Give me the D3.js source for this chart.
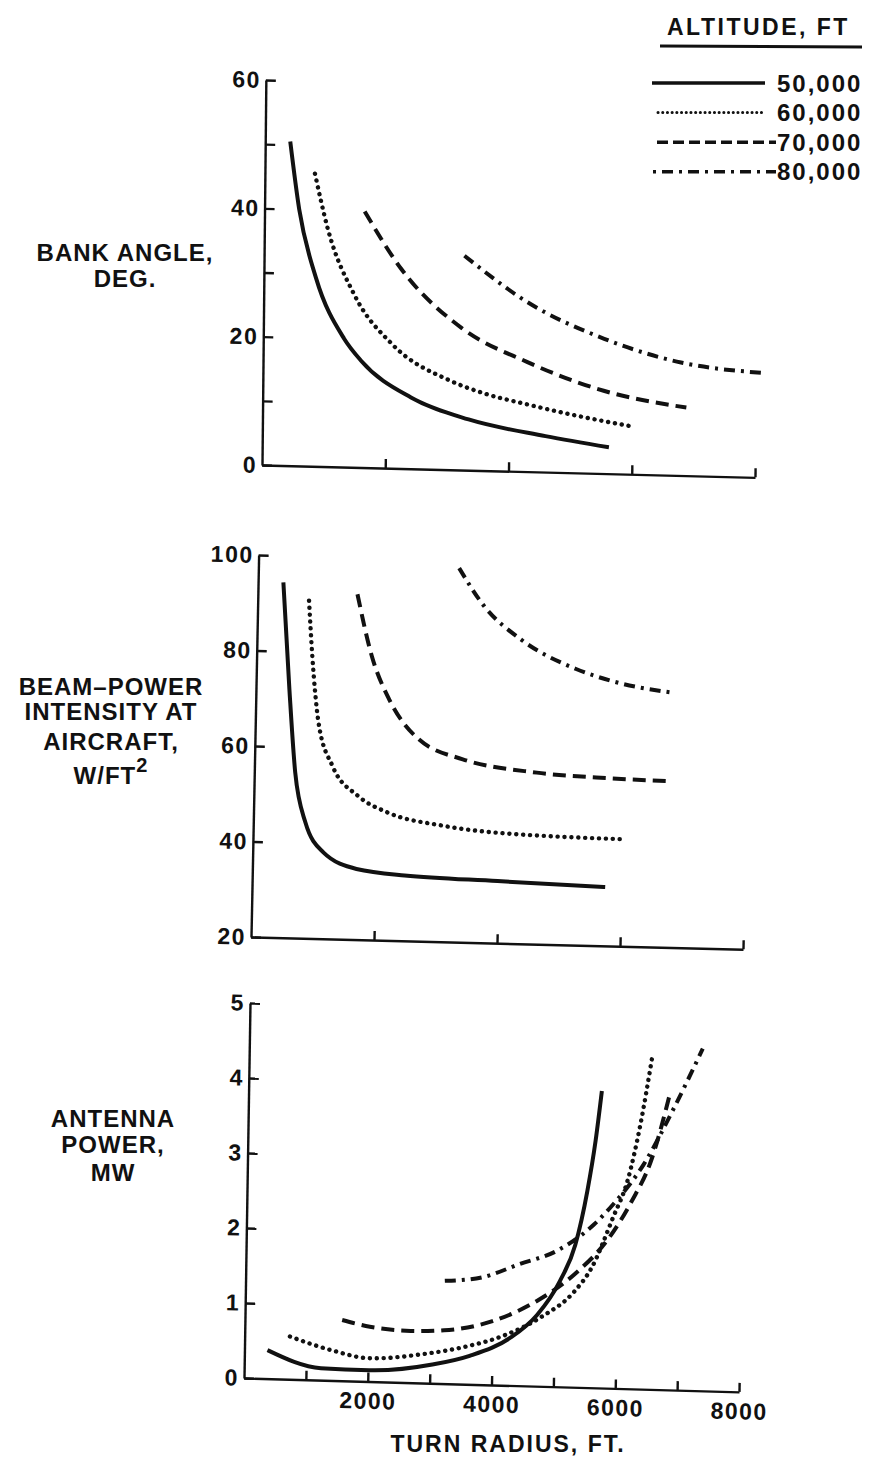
<!DOCTYPE html>
<html>
<head>
<meta charset="utf-8">
<title>turn radius charts</title>
<script src="https://d3js.org/d3.v7.min.js"></script>
<style>
  body { margin: 0; background: #fff; }
  svg text { font-family: "Liberation Sans", Arial, sans-serif; font-weight: bold; fill: #111; }
</style>
</head>
<body>
<svg width="878" height="1464"></svg>
<script>
// altitude legend
var altitudes = ['50,000', '60,000', '70,000', '80,000'];

// turn radius ticks (ft)
var radiusTicks = [2000, 4000, 6000, 8000];
var radiusMinorTicks = [1000, 2000, 3000, 4000, 5000, 6000, 7000, 8000];

// bank angle, deg  [turn radius ft, value]
var bankTicks = [0, 10, 20, 30, 40, 50, 60];
var bank50 = [[406, 50.5], [562, 40], [844, 29.4], [1312, 20], [1594, 16.6], [2406, 11.1], [3344, 7.9], [4594, 5.6], [5625, 4.1]];
var bank60 = [[812, 45.6], [1031, 37], [1469, 26.9], [2094, 19.3], [3031, 13.9], [3600, 12.0], [4281, 10.5], [5100, 8.9], [6031, 7.4]];
var bank70 = [[1625, 39.9], [2219, 31.2], [3219, 22.1], [4281, 17.1], [5531, 12.9], [6875, 10.6]];
var bank80 = [[3250, 33.4], [4281, 26.4], [5531, 21], [6781, 17.6], [8094, 16.3]];

// beam-power intensity at aircraft, W/ft2
var intensityTicks = [20, 40, 60, 80, 100];
var int50 = [[411, 94.4], [544, 72], [665, 54.7], [846, 44.3], [1148, 38.1], [1692, 34.8], [2477, 33.7], [3988, 33], [5740, 32.3]];
var int60 = [[834, 90.7], [906, 79], [1027, 65.3], [1269, 56.2], [1692, 50.1], [2175, 46.8], [3081, 44.3], [4290, 42.9], [6042, 42.4]];
var int70 = [[1619, 92.3], [1873, 79.4], [2175, 70.3], [2659, 62.3], [3384, 58.3], [4592, 55.9], [5801, 55.1], [6798, 54.8]];
var int80 = [[3263, 98.3], [3686, 90.4], [4290, 83.7], [5196, 77.8], [5801, 75.4], [6798, 73.3]];

// antenna power, MW
var powerTicks = [0, 1, 2, 3, 4, 5];
var pow50 = [[372, 0.38], [1241, 0.16], [2020, 0.15], [3040, 0.25], [3639, 0.38], [4299, 0.64], [4718, 0.95], [5078, 1.41], [5318, 1.9], [5498, 2.62], [5618, 3.29], [5707, 3.96]];
var pow60 = [[731, 0.57], [1421, 0.4], [2020, 0.31], [2920, 0.39], [3519, 0.49], [4179, 0.66], [4778, 0.92], [5318, 1.28], [5588, 1.6], [5917, 2.27], [6157, 2.81], [6337, 3.52], [6517, 4.46]];
var pow70 = [[1571, 0.81], [2020, 0.73], [2680, 0.69], [3219, 0.71], [3999, 0.85], [4718, 1.14], [5318, 1.51], [5857, 2.0], [6217, 2.5], [6517, 3.04], [6817, 3.98]];
var pow80 = [[3219, 1.37], [3819, 1.43], [4418, 1.62], [5018, 1.81], [5618, 2.18], [5917, 2.45], [6397, 2.99], [6877, 3.76], [7326, 4.56]];

var styles = [
	{ width: 4, dash: null, cap: 'butt' },
	{ width: 4.4, dash: '0.1 6.8', cap: 'round' },
	{ width: 4, dash: '13 7', cap: 'butt' },
	{ width: 4, dash: '11 6 3 6', cap: 'butt' }
];

var svg = d3.select('svg');

function panel(cfg) {
	// the scanned figure is slightly skewed, so each frame is too
	var g = svg.append('g')
		.attr('transform', 'translate(' + cfg.ox + ',' + cfg.oy + ') matrix(1,' + cfg.b + ',' + cfg.c + ',1,0,0)');

	var x = d3.scaleLinear().domain([0, 8000]).range([0, cfg.w]);
	var y = d3.scaleLinear().domain(cfg.yDomain).range([0, -cfg.h]);

	var xAxis = d3.axisBottom(x)
		.tickValues(cfg.xTicks)
		.tickSizeInner(-9)
		.tickSizeOuter(0)
		.tickPadding(11)
		.tickFormat(d => cfg.xLabels && d % 2000 === 0 ? d : '');
	var yAxis = d3.axisLeft(y)
		.tickValues(cfg.yTicks)
		.tickSizeInner(-10)
		.tickSizeOuter(0)
		.tickPadding(5)
		.tickFormat(d => cfg.yLabels.indexOf(d) >= 0 ? d : '');

	g.append('g').call(xAxis);
	g.append('g').call(yAxis);
	g.selectAll('.domain, .tick line').attr('stroke', '#111').attr('stroke-width', 2.4);
	g.selectAll('.tick text')
		.attr('font-family', null)
		.style('font-size', '23px')
		.style('letter-spacing', '1.5px')
		.attr('fill', '#111');

	var line = d3.line()
		.x(d => x(d[0]))
		.y(d => y(d[1]))
		.curve(d3.curveMonotoneX);

	g.selectAll('.series')
		.data(cfg.series)
		.enter().append('path')
		.classed('series', true)
		.attr('d', d => line(d))
		.attr('fill', 'none')
		.attr('stroke', '#111')
		.attr('stroke-width', (d, i) => styles[i].width)
		.attr('stroke-dasharray', (d, i) => styles[i].dash)
		.attr('stroke-linecap', (d, i) => styles[i].cap);
}

panel({ ox: 262, oy: 465, w: 493, h: 385, b: 0.025, c: -0.01,
	yDomain: [0, 60], yTicks: bankTicks, yLabels: [0, 20, 40, 60],
	xTicks: radiusTicks, xLabels: false,
	series: [bank50, bank60, bank70, bank80] });

panel({ ox: 251, oy: 937, w: 492, h: 382, b: 0.025, c: -0.02,
	yDomain: [20, 100], yTicks: intensityTicks, yLabels: intensityTicks,
	xTicks: radiusTicks, xLabels: false,
	series: [int50, int60, int70, int80] });

panel({ ox: 244, oy: 1378, w: 495, h: 375, b: 0.028, c: -0.016,
	yDomain: [0, 5], yTicks: powerTicks, yLabels: powerTicks,
	xTicks: radiusMinorTicks, xLabels: true,
	series: [pow50, pow60, pow70, pow80] });

// axis titles
function label(lines, cx, size) {
	lines.forEach(function (l) {
		var t = svg.append('text')
			.attr('x', cx).attr('y', l[1])
			.attr('text-anchor', 'middle')
			.style('font-size', size + 'px')
			.style('letter-spacing', '1px')
			.text(l[0]);
		if (l[2]) {
			t.append('tspan').attr('dy', -12).style('font-size', '20px').text(l[2]);
		}
	});
}
label([['BANK ANGLE,', 261], ['DEG.', 287]], 125, 24);
label([['BEAM\u2013POWER', 695], ['INTENSITY AT', 720], ['AIRCRAFT,', 750], ['W/FT', 784, '2']], 111, 24);
label([['ANTENNA', 1127], ['POWER,', 1153], ['MW', 1181]], 113, 24);

svg.append('text')
	.attr('x', 508).attr('y', 1452)
	.attr('text-anchor', 'middle')
	.style('font-size', '23px')
	.style('letter-spacing', '2px')
	.text('TURN RADIUS, FT.');

// legend
var legend = svg.append('g');
legend.append('text')
	.attr('x', 667).attr('y', 35)
	.style('font-size', '23px')
	.style('letter-spacing', '2.5px')
	.text('ALTITUDE, FT');
legend.append('line')
	.attr('x1', 660).attr('x2', 862).attr('y1', 46).attr('y2', 47)
	.attr('stroke', '#111').attr('stroke-width', 2.8);

var legendDash = [null, '0.1 4.6', '11 5', '3 6 11 6'];
var legendX1 = [652, 658, 657, 653];
var legendX2 = [765, 763, 776, 776];
var rows = legend.selectAll('.row')
	.data(altitudes)
	.enter().append('g')
	.classed('row', true)
	.attr('transform', (d, i) => 'translate(0,' + (83 + i * 29.6) + ')');
rows.append('line')
	.attr('x1', (d, i) => legendX1[i]).attr('x2', (d, i) => legendX2[i])
	.attr('stroke', '#111')
	.attr('stroke-width', (d, i) => i === 1 ? 3 : 3.4)
	.attr('stroke-dasharray', (d, i) => legendDash[i])
	.attr('stroke-linecap', (d, i) => i === 1 ? 'round' : 'butt');
rows.append('text')
	.attr('x', 777).attr('y', 8.5)
	.style('font-size', '24px')
	.style('letter-spacing', '2px')
	.text(d => d);
</script>
</body>
</html>
